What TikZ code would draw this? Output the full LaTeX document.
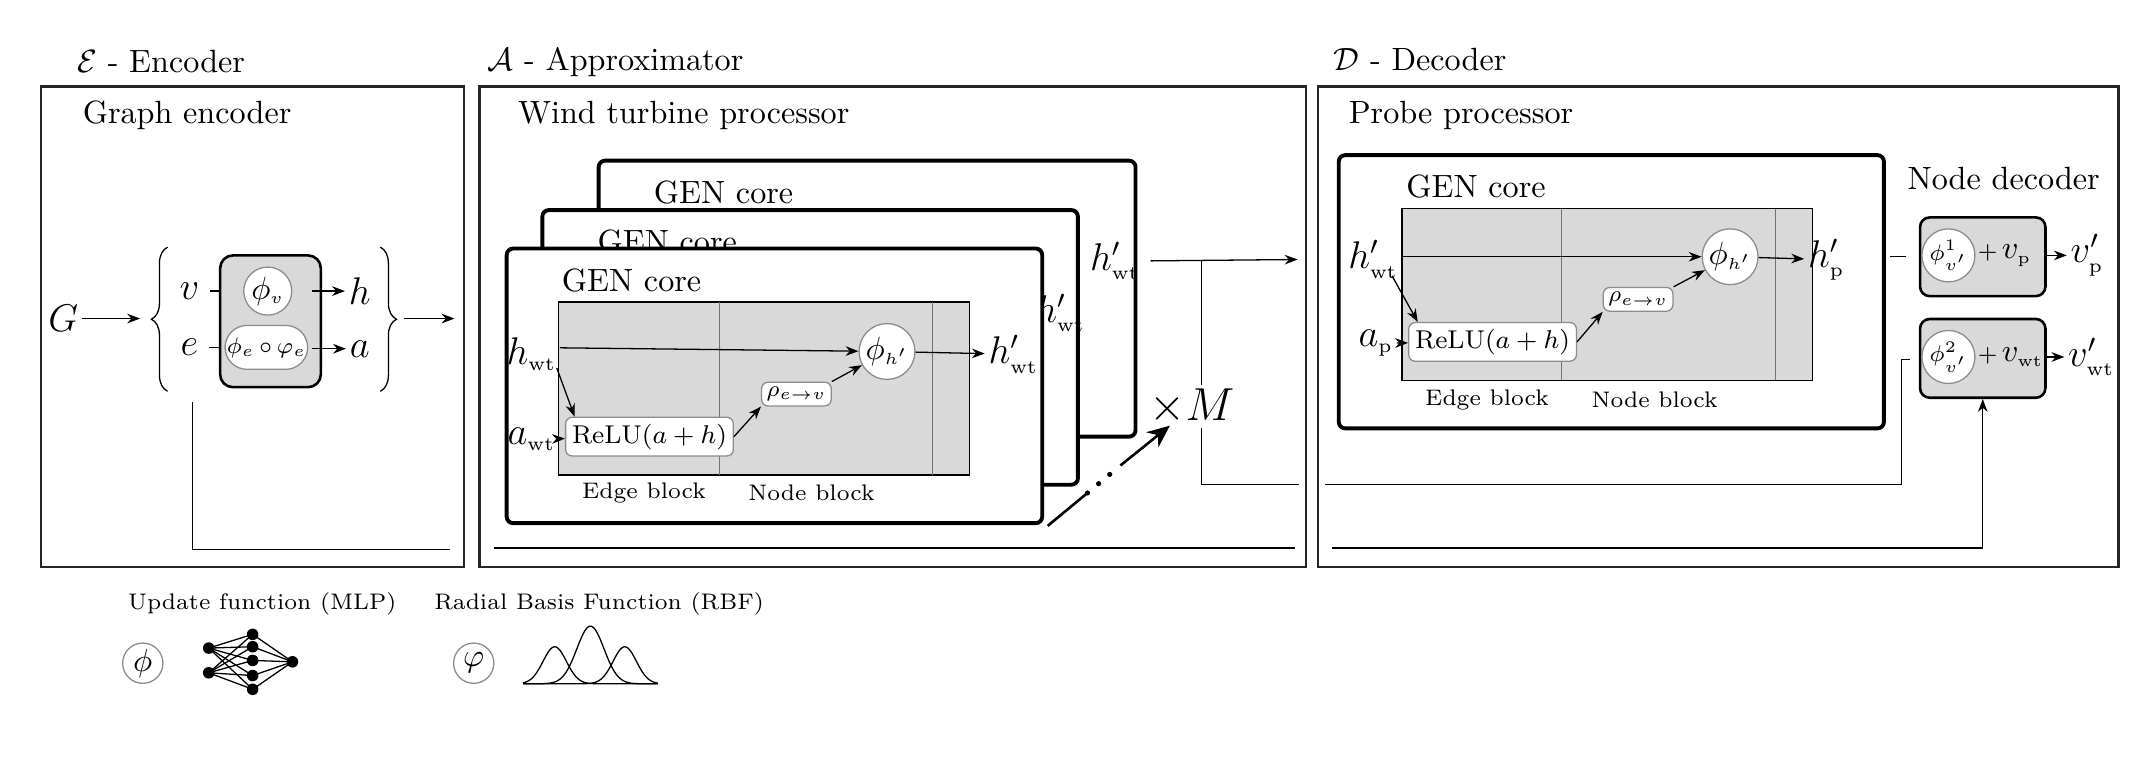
\documentclass[tikz,border=0pt]{standalone}
\usepackage{amsmath}
\usetikzlibrary{arrows.meta, decorations.pathreplacing}

\newcommand{\wt}{\mathrm{wt}}
\newcommand{\pr}{\mathrm{p}}

\begin{document}
\begin{tikzpicture}[x=0.015cm, y=-0.015cm,
    frame/.style={draw=black!85, thick},
    card/.style={draw, fill=white, very thick, rounded corners=2pt},
    shade/.style={draw, fill=black!15, thick},
    fn/.style={circle, draw=black!45, fill=white, inner sep=0.5pt, minimum size=0.46cm},
    blk/.style={draw=black!45, fill=white, rounded corners=2pt, inner sep=2pt},
    ttl/.style={anchor=west, font=\normalsize},
    var/.style={font=\large, inner sep=1pt},
    sub/.style={font=\scriptsize},
    >={Stealth[length=4pt, width=3pt]}]
    \useasboundingbox (0,0) rectangle (1568,551);

    %% Encoder
    \node[ttl] (encT) at (48,45) {$\mathcal{E}$ - Encoder};
    \draw[frame] (30,63) rectangle (338,413);
    \node[ttl] at (52,84) {Graph encoder};
    \node[var] (G) at (46,232) {$G$};
    \coordinate (Gend) at (102,232);
    \draw[->] (G) -- (Gend);
    \draw[decorate, decoration={brace, amplitude=5pt}] (122,285) -- (122,180);
    \node[var] (v) at (138,212) {$v$};
    \node[var] (e) at (138,253) {$e$};
    \node[shade, rounded corners=4pt, minimum width=1.1cm, minimum height=1.44cm] (encbox) at (197,234) {};
    \node[fn] (phiv) at (195,212) {$\phi_{\scriptscriptstyle v}$};
    \node[fn, rectangle, rounded corners=0.24cm, minimum width=0.86cm, minimum height=0.48cm] (phie) at (194,253) {$\scriptstyle \phi_{\scriptscriptstyle e}\,\circ\,\varphi_{\scriptscriptstyle e}$};
    \node[var] (h) at (262,212) {$h$};
    \node[var] (a) at (262,254) {$a$};
    \draw ([xshift=2pt]v.east) -- (encbox.west |- v);
    \draw ([xshift=2pt]e.east) -- (encbox.west |- e);
    \draw[->] ([xshift=-3pt]encbox.east |- h) -- (h);
    \draw[->] ([xshift=-3pt]encbox.east |- a) -- (a);
    \draw[decorate, decoration={brace, amplitude=5pt}] (277,180) -- (277,285);
    \coordinate (encin) at (294,232);
    \coordinate (encout) at (331,232);
    \draw[->] (encin) -- (encout);
    \coordinate (skipA) at (140,293);
    \coordinate (skipB) at (328,400);
    \draw (skipA) |- (skipB);

    %% Approximator
    \node[ttl] at (347,45) {$\mathcal{A}$ - Approximator};
    \draw[frame] (349,63) rectangle (951,413);
    \node[ttl] at (369,84) {Wind turbine processor};
    \draw[card] (436,117) rectangle (827,318);
    \node[ttl] at (468,140) {GEN core};
    \node[var] (hwt3) at (812,190) {$h'_{\scriptscriptstyle\wt}$};
    \draw[card] (395,153) rectangle (785,353);
    \node[ttl] at (427,176) {GEN core};
    \node[var] (hwt2) at (772,228) {$h'_{\scriptscriptstyle\wt}$};
    \draw[card] (369,181) rectangle (759,381);
    \node[ttl] at (401,204) {GEN core};
    \draw[shade, thin] (407,220) rectangle (706,346);
    \draw[black!55] (524,220) -- (524,346) (679,220) -- (679,346);
    \node[var] (fh) at (387,258) {$h_{\scriptscriptstyle\wt}$};
    \node[var] (fa) at (387,320) {$a_{\scriptscriptstyle\wt}$};
    \node[fn] (fphi) at (646,256) {$\phi_{\scriptscriptstyle h'}$};
    \node[blk, font=\footnotesize] (frelu) at (473,318) {ReLU$(a+h)$};
    \node[blk, inner sep=1.5pt] (frho) at (580,287) {$\scriptstyle\rho_{\scriptscriptstyle e\to v}$};
    \node[var] (fhout) at (738,258) {$h'_{\scriptscriptstyle\wt}$};
    \draw[->] ([yshift=2pt]fh.east) -- (fphi);
    \draw[->] ([xshift=-1pt,yshift=2pt]fh.south east) -- ([xshift=3pt]frelu.north west);
    \draw[->] (fa) -- (frelu);
    \draw[->] (frelu.east) -- (frho.south west);
    \draw[->] (frho.north east) -- (fphi);
    \draw[->] (fphi) -- (fhout);
    \node[sub] at (469,359) {Edge block};
    \node[sub] at (591,359) {Node block};
    \coordinate (aout) at (945,189);
    \coordinate (split) at (875,189);
    \draw[->] (hwt3) ++(26,0) -- (aout);
    \node[var, font=\Large] (xm) at (868,296) {$\times M$};
    \coordinate (aend) at (946,353);
    \draw (split) -- (split |- xm.north);
    \draw (split |- xm.south) |- (aend);
    \coordinate (dotA) at (763,383);
    \coordinate (dotB) at (792,359);
    \coordinate (dotC) at (816,339);
    \coordinate (dotD) at (852,310);
    \draw[thick] (dotA) -- (dotB);
    \draw[line width=1.6pt, line cap=round, dash pattern=on 0pt off 4.5pt] (dotB) -- (dotC);
    \draw[thick, ->, >={Stealth[length=7pt, width=6pt]}] (dotC) -- (dotD);
    \coordinate (abotA) at (360,399);
    \coordinate (abotB) at (943,399);
    \draw (abotA) -- (abotB);

    %% Decoder
    \node[ttl] at (963,43) {$\mathcal{D}$ - Decoder};
    \draw[frame] (960,63) rectangle (1543,413);
    \node[ttl] at (974,84) {Probe processor};
    \draw[card] (975,113) rectangle (1372,312);
    \node[ttl] at (1016,136) {GEN core};
    \draw[shade, thin] (1021,152) rectangle (1320,277);
    \draw[black!55] (1137,152) -- (1137,277) (1293,152) -- (1293,277);
    \node[var] (dh) at (1000,189) {$h'_{\scriptscriptstyle\wt}$};
    \node[var] (da) at (1002,250) {$a_{\scriptscriptstyle\pr}$};
    \node[fn] (dphi) at (1260,187) {$\phi_{\scriptscriptstyle h'}$};
    \node[blk, font=\footnotesize] (drelu) at (1087,249) {ReLU$(a+h)$};
    \node[blk, inner sep=1.5pt] (drho) at (1193,218) {$\scriptstyle\rho_{\scriptscriptstyle e\to v}$};
    \node[var] (dhout) at (1330,189) {$h'_{\scriptscriptstyle\pr}$};
    \draw[->] (dh.east |- dphi) -- (dphi);
    \draw[->] ([xshift=-3pt,yshift=2pt]dh.south east) -- ([xshift=3pt]drelu.north west);
    \draw[->] (da) -- (drelu);
    \draw[->] (drelu.east) -- (drho.south west);
    \draw[->] (drho.north east) -- (dphi);
    \draw[->] (dphi) -- (dhout);
    \node[sub] at (1083,291) {Edge block};
    \node[sub] at (1205,291) {Node block};

    \node[ttl] at (1381,130) {Node decoder};
    \node[shade, rounded corners=3pt, minimum width=1.37cm, minimum height=0.86cm] (nd1) at (1444,187) {};
    \node[fn, minimum size=0.4cm] (nphi1) at (1419,186) {$\scriptstyle\phi^{\scriptscriptstyle 1}_{\scriptscriptstyle v'}$};
    \node[anchor=west, inner sep=0.5pt] (nv1) at (nphi1.east) {$\scriptstyle+\,$$v_{\scriptscriptstyle\pr}$};
    \node[var] (vp) at (1520,186) {$v'_{\scriptscriptstyle\pr}$};
    \node[shade, rounded corners=3pt, minimum width=1.37cm, minimum height=0.86cm] (nd2) at (1444,261) {};
    \node[fn, minimum size=0.4cm] (nphi2) at (1419,260) {$\scriptstyle\phi^{\scriptscriptstyle 2}_{\scriptscriptstyle v'}$};
    \node[anchor=west, inner sep=0.5pt] (nv2) at (nphi2.east) {$\scriptstyle+\,$$v_{\scriptscriptstyle\wt}$};
    \node[var] (vwt) at (1523,260) {$v'_{\scriptscriptstyle\wt}$};
    \draw ([xshift=-9pt]nd1.west) -- ([xshift=-4pt]nd1.west);
    \draw[->] (nd1.east |- vp) -- (vp);
    \draw[->] (nd2.east |- vwt) -- (vwt);
    \coordinate (dlA) at (965,353);
    \coordinate (dlB) at (1385,262);
    \coordinate (dlC) at (1391,262);
    \draw (dlA) -| (dlB) -- (dlC);
    \coordinate (dbot) at (970,399);
    \draw[->] (dbot) -| (nd2.south);

    %% Legend
    \node[sub, anchor=west] at (85,440) {Update function (MLP)};
    \node[fn, minimum size=0.44cm] (lphi) at (104,483) {$\phi$};
    \foreach \i/\y in {1/472, 2/490} \coordinate (in\i) at (152,\y);
    \foreach \j/\y in {1/462, 2/471, 3/481, 4/492, 5/502} \coordinate (hid\j) at (184,\y);
    \coordinate (out) at (213,482);
    \foreach \i in {1,2} \foreach \j in {1,...,5} \draw (in\i) -- (hid\j);
    \foreach \j in {1,...,5} \draw (hid\j) -- (out);
    \foreach \c in {in1,in2,hid1,hid2,hid3,hid4,hid5,out} \fill (\c) circle (1.8pt);
    \node[sub, anchor=west] at (308,440) {Radial Basis Function (RBF)};
    \node[fn, minimum size=0.44cm] (lvphi) at (345,483) {$\varphi$};
    \draw (381,498) -- (479,498);
    \foreach \m/\s/\hgt in {404/12/27, 430/14/42, 455/12/27}
        \draw plot[domain=381:479, samples=70] (\x, {498-\hgt*exp(-((\x-\m)/\s)^2)});
\end{tikzpicture}
\end{document}
